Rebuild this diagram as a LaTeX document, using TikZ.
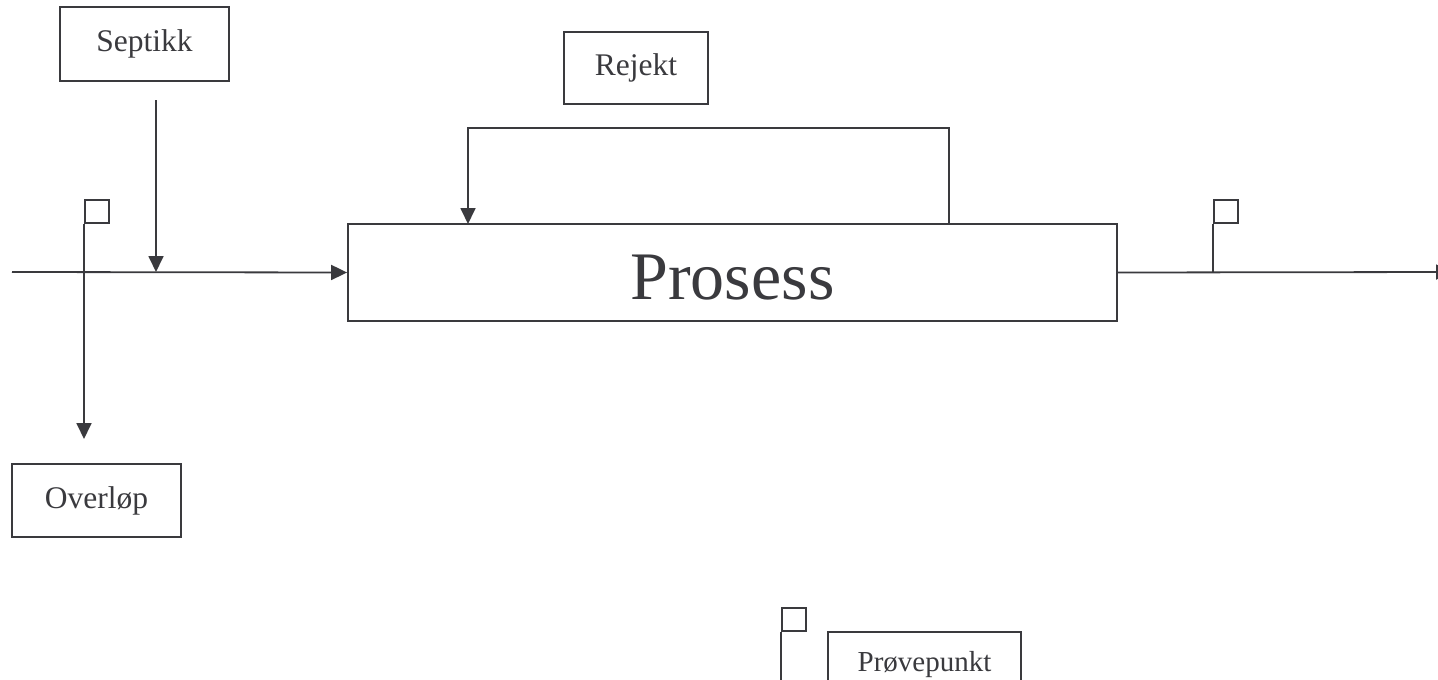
\documentclass[tikz,border=0pt]{standalone}
\usepackage{fontspec}
\setmainfont{Liberation Serif}
\usetikzlibrary{arrows.meta}
\definecolor{ink}{RGB}{58,58,62}

\tikzset{
  box/.style={draw=ink, line width=1.8pt, inner sep=0pt, text=ink},
  flow/.style={draw=ink, line width=1.8pt, -{Triangle[length=16pt,width=15pt]}},
  pipe/.style={draw=ink, line width=1.8pt},
  flagbox/.style={draw=ink, line width=1.8pt, minimum width=24pt, minimum height=23pt, inner sep=0pt, anchor=south west}
}

\begin{document}
\begin{tikzpicture}[x=1pt,y=-1pt]
\useasboundingbox (0,0) rectangle (1438,680);

% boxes
\node [box, minimum width=169pt, minimum height=74pt, font=\fontsize{31.5}{36}\selectfont] (septikk) at (144.5,44) {Septikk};
\node [box, minimum width=144pt, minimum height=72pt, font=\fontsize{31.5}{36}\selectfont] (rejekt) at (636,68) {Rejekt};
\node [box, minimum width=769pt, minimum height=97pt, text height=55pt, font=\fontsize{68}{76}\selectfont] (prosess) at (732.5,272.5) {Prosess};
\node [box, minimum width=169pt, minimum height=73pt, font=\fontsize{31.5}{36}\selectfont] (overlop) at (96.5,500.5) {Overløp};
\node [box, minimum width=193pt, minimum height=66pt, font=\fontsize{29}{34}\selectfont] (provepunkt) at (924.5,665) {Prøvepunkt};

% inlet
\coordinate (inlet) at (12,272);
\draw [flow] (inlet) -- (prosess.west);
\coordinate (septin) at (156,100);
\coordinate (septout) at (156,272);
\draw [flow] (septin) -- (septout);

% overflow with sample flag
\node [flagbox] (flagin) at (84,224) {};
\coordinate (ovltip) at (84,439);
\draw [flow] (flagin.south west) -- (ovltip);

% reject loop
\coordinate (rejout) at (949,224);
\coordinate (rejin) at (468,224);
\draw [flow] (rejout) -- ++(0,-96) -| (rejin);

% outlet with sample flag
\coordinate (outlet) at (1452,272);
\draw [flow] (prosess.east) -- (outlet);
\node [flagbox] (flagout) at (1213,224) {};
\coordinate (flagoutbot) at (1213,272);
\draw [pipe] (flagout.south west) -- (flagoutbot);

% legend
\node [flagbox] (flagkey) at (781,632) {};
\coordinate (flagkeybot) at (781,700);
\draw [pipe] (flagkey.south west) -- (flagkeybot);

\end{tikzpicture}
\end{document}
